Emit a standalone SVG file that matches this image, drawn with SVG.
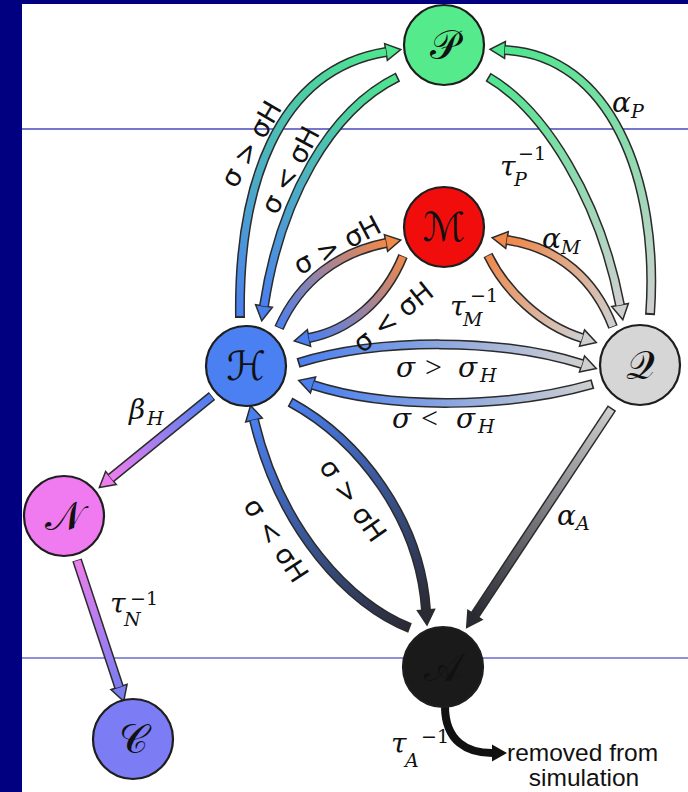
<svg xmlns="http://www.w3.org/2000/svg" width="688" height="792" viewBox="0 0 688 792">
<defs>
<style>
.ol{fill:none;stroke:#2b2b2b;stroke-width:10}
.in{fill:none;stroke-width:7;stroke-dasharray:0 6 1000}
.nd{stroke:#1e1e1e;stroke-width:2.2}
.nl{font-family:"DejaVu Serif","DejaVu Sans",serif;font-size:40px;text-anchor:middle;fill:#111}
.m{font-family:"DejaVu Serif",serif;font-style:italic;font-size:28px;fill:#111}
.s{font-size:19px}
.u{font-style:normal}
.g{font-family:"Liberation Serif",serif;font-style:normal;font-size:30px}
.r{font-family:"DejaVu Sans",sans-serif;font-size:27px;fill:#111;text-anchor:middle}
.t{font-family:"Liberation Sans",Arial,sans-serif;font-size:24.5px;fill:#111}
.hd{stroke:#2b2b2b;stroke-width:1.5}
</style>
<marker id="hG" viewBox="0 -10 17 20" refX="0" refY="0" markerWidth="17" markerHeight="20" markerUnits="userSpaceOnUse" orient="auto" overflow="visible"><path class="hd" d="M0,-8.5 L15,0 L0,8.5 Z" fill="#4ee68e"/></marker>
<marker id="hB" viewBox="0 -10 17 20" refX="0" refY="0" markerWidth="17" markerHeight="20" markerUnits="userSpaceOnUse" orient="auto" overflow="visible"><path class="hd" d="M0,-8.5 L15,0 L0,8.5 Z" fill="#4a7ff0"/></marker>
<marker id="hO" viewBox="0 -10 17 20" refX="0" refY="0" markerWidth="17" markerHeight="20" markerUnits="userSpaceOnUse" orient="auto" overflow="visible"><path class="hd" d="M0,-8.5 L15,0 L0,8.5 Z" fill="#f0884a"/></marker>
<marker id="hY" viewBox="0 -10 17 20" refX="0" refY="0" markerWidth="17" markerHeight="20" markerUnits="userSpaceOnUse" orient="auto" overflow="visible"><path class="hd" d="M0,-8.5 L15,0 L0,8.5 Z" fill="#cfcfcf"/></marker>
<marker id="hD" viewBox="0 -10 17 20" refX="0" refY="0" markerWidth="17" markerHeight="20" markerUnits="userSpaceOnUse" orient="auto" overflow="visible"><path class="hd" d="M0,-8.5 L15,0 L0,8.5 Z" fill="#2a2a34"/></marker>
<marker id="hK" viewBox="0 -10 17 20" refX="0" refY="0" markerWidth="17" markerHeight="20" markerUnits="userSpaceOnUse" orient="auto" overflow="visible"><path class="hd" d="M0,-8.5 L15,0 L0,8.5 Z" fill="#ee7eee"/></marker>
<marker id="hV" viewBox="0 -10 17 20" refX="0" refY="0" markerWidth="17" markerHeight="20" markerUnits="userSpaceOnUse" orient="auto" overflow="visible"><path class="hd" d="M0,-8.5 L15,0 L0,8.5 Z" fill="#7c7cf2"/></marker>
<marker id="hX" viewBox="0 -10 17 20" refX="0" refY="0" markerWidth="17" markerHeight="20" markerUnits="userSpaceOnUse" orient="auto" overflow="visible"><path d="M0,-8.5 L15,0 L0,8.5 Z" fill="#111"/></marker>
<linearGradient id="gHP" gradientUnits="userSpaceOnUse" x1="240" y1="318" x2="386" y2="52"><stop offset="0" stop-color="#4a7ff0"/><stop offset="1" stop-color="#4ee68e"/></linearGradient>
<linearGradient id="gPH" gradientUnits="userSpaceOnUse" x1="398" y1="77" x2="264" y2="306"><stop offset="0" stop-color="#4ee68e"/><stop offset="1" stop-color="#4a7ff0"/></linearGradient>
<linearGradient id="gHM" gradientUnits="userSpaceOnUse" x1="279" y1="328" x2="386" y2="243"><stop offset="0" stop-color="#4a7ff0"/><stop offset="1" stop-color="#f0884a"/></linearGradient>
<linearGradient id="gMH" gradientUnits="userSpaceOnUse" x1="403" y1="256" x2="309" y2="338"><stop offset="0" stop-color="#f0884a"/><stop offset="1" stop-color="#4a7ff0"/></linearGradient>
<linearGradient id="gMQ" gradientUnits="userSpaceOnUse" x1="488" y1="255" x2="582" y2="338"><stop offset="0" stop-color="#f0884a"/><stop offset="1" stop-color="#cfcfcf"/></linearGradient>
<linearGradient id="gQM" gradientUnits="userSpaceOnUse" x1="613" y1="327" x2="507" y2="240"><stop offset="0" stop-color="#cfcfcf"/><stop offset="1" stop-color="#f0884a"/></linearGradient>
<linearGradient id="gPQ" gradientUnits="userSpaceOnUse" x1="488" y1="77" x2="620" y2="305"><stop offset="0" stop-color="#4ee68e"/><stop offset="1" stop-color="#cfcfcf"/></linearGradient>
<linearGradient id="gQP" gradientUnits="userSpaceOnUse" x1="650" y1="315" x2="505" y2="50"><stop offset="0" stop-color="#cfcfcf"/><stop offset="1" stop-color="#4ee68e"/></linearGradient>
<linearGradient id="gHQ" gradientUnits="userSpaceOnUse" x1="298" y1="363" x2="582" y2="364"><stop offset="0" stop-color="#4a7ff0"/><stop offset="1" stop-color="#cfcfcf"/></linearGradient>
<linearGradient id="gQH" gradientUnits="userSpaceOnUse" x1="593" y1="384" x2="313" y2="385"><stop offset="0" stop-color="#cfcfcf"/><stop offset="1" stop-color="#4a7ff0"/></linearGradient>
<linearGradient id="gHA" gradientUnits="userSpaceOnUse" x1="290" y1="402" x2="426" y2="610"><stop offset="0" stop-color="#4a7ff0"/><stop offset="1" stop-color="#2a2a34"/></linearGradient>
<linearGradient id="gAH" gradientUnits="userSpaceOnUse" x1="410" y1="628" x2="254" y2="420"><stop offset="0" stop-color="#2a2a34"/><stop offset="1" stop-color="#4a7ff0"/></linearGradient>
<linearGradient id="gQA" gradientUnits="userSpaceOnUse" x1="612" y1="408" x2="475" y2="615"><stop offset="0" stop-color="#cfcfcf"/><stop offset="1" stop-color="#2a2a34"/></linearGradient>
<linearGradient id="gHN" gradientUnits="userSpaceOnUse" x1="212" y1="396" x2="111" y2="478"><stop offset="0" stop-color="#4a7ff0"/><stop offset="1" stop-color="#ee7eee"/></linearGradient>
<linearGradient id="gNC" gradientUnits="userSpaceOnUse" x1="77" y1="560" x2="119" y2="687"><stop offset="0" stop-color="#ee7eee"/><stop offset="1" stop-color="#7c7cf2"/></linearGradient>
</defs>
<rect width="688" height="792" fill="#000080"/>
<rect x="22" y="4" width="666" height="788" fill="#ffffff"/>
<line x1="22" y1="129" x2="688" y2="129" stroke="#4848b8" stroke-width="1.3"/>
<line x1="22" y1="658" x2="688" y2="658" stroke="#6a6ad0" stroke-width="1.3"/>

<g id="connectors">
<g id="e-HP"><path class="ol" d="M240,318 C238,190 275,70 386,52" marker-end="url(#hG)"/><path class="in" pathLength="1000" stroke="url(#gHP)" d="M240,318 C238,190 275,70 386,52"/></g>
<g id="e-PH"><path class="ol" d="M398,77 C330,110 280,200 264,306" marker-end="url(#hB)"/><path class="in" pathLength="1000" stroke="url(#gPH)" d="M398,77 C330,110 280,200 264,306"/></g>
<g id="e-HM"><path class="ol" d="M279,328 C300,280 340,252 386,243" marker-end="url(#hO)"/><path class="in" pathLength="1000" stroke="url(#gHM)" d="M279,328 C300,280 340,252 386,243"/></g>
<g id="e-MH"><path class="ol" d="M403,256 C385,300 350,330 309,338" marker-end="url(#hB)"/><path class="in" pathLength="1000" stroke="url(#gMH)" d="M403,256 C385,300 350,330 309,338"/></g>
<g id="e-MQ"><path class="ol" d="M488,255 C505,290 540,325 582,338" marker-end="url(#hY)"/><path class="in" pathLength="1000" stroke="url(#gMQ)" d="M488,255 C505,290 540,325 582,338"/></g>
<g id="e-QM"><path class="ol" d="M613,327 C595,280 560,248 507,240" marker-end="url(#hO)"/><path class="in" pathLength="1000" stroke="url(#gQM)" d="M613,327 C595,280 560,248 507,240"/></g>
<g id="e-PQ"><path class="ol" d="M488,77 C545,110 600,200 620,305" marker-end="url(#hY)"/><path class="in" pathLength="1000" stroke="url(#gPQ)" d="M488,77 C545,110 600,200 620,305"/></g>
<g id="e-QP"><path class="ol" d="M650,315 C660,180 610,55 505,50" marker-end="url(#hG)"/><path class="in" pathLength="1000" stroke="url(#gQP)" d="M650,315 C660,180 610,55 505,50"/></g>
<g id="e-HQ"><path class="ol" d="M298,363 C380,338 500,338 582,364" marker-end="url(#hY)"/><path class="in" pathLength="1000" stroke="url(#gHQ)" d="M298,363 C380,338 500,338 582,364"/></g>
<g id="e-QH"><path class="ol" d="M593,384 C510,408 390,410 313,385" marker-end="url(#hB)"/><path class="in" pathLength="1000" stroke="url(#gQH)" d="M593,384 C510,408 390,410 313,385"/></g>
<g id="e-HA"><path class="ol" d="M290,402 C360,440 420,520 426,610" marker-end="url(#hD)"/><path class="in" pathLength="1000" stroke="url(#gHA)" d="M290,402 C360,440 420,520 426,610"/></g>
<g id="e-AH"><path class="ol" d="M410,628 C350,605 280,530 254,420" marker-end="url(#hB)"/><path class="in" pathLength="1000" stroke="url(#gAH)" d="M410,628 C350,605 280,530 254,420"/></g>
<g id="e-QA"><path class="ol" d="M612,408 L475,615" marker-end="url(#hD)"/><path class="in" pathLength="1000" stroke="url(#gQA)" d="M612,408 L475,615"/></g>
<g id="e-HN"><path class="ol" d="M212,396 L111,478" marker-end="url(#hK)"/><path class="in" pathLength="1000" stroke="url(#gHN)" d="M212,396 L111,478"/></g>
<g id="e-NC"><path class="ol" d="M77,560 L119,687" marker-end="url(#hV)"/><path class="in" pathLength="1000" stroke="url(#gNC)" d="M77,560 L119,687"/></g>
<g id="e-Aout"><path d="M445,706 C445,742 468,753 492,753" fill="none" stroke="#111" stroke-width="8" marker-end="url(#hX)"/></g>
</g>

<g id="labels">
<text class="r" transform="translate(251,144) rotate(-60)" dy="0.35em">σ &gt; σH</text>
<text class="r" transform="translate(290,170) rotate(-62)" dy="0.35em">σ &lt; σH</text>
<text class="r" transform="translate(337,245) rotate(-28)" dy="0.35em">σ &gt; σH</text>
<text class="r" transform="translate(393,317) rotate(-39)" dy="0.35em">σ &lt; σH</text>
<text class="r" transform="translate(353,500) rotate(55)" dy="0.35em">σ &gt; σH</text>
<text class="r" transform="translate(276,540) rotate(57)" dy="0.35em">σ &lt; σH</text>
<text class="m"><tspan x="396" y="377">σ</tspan><tspan class="g" x="425" y="377">&gt;</tspan><tspan x="458" y="377">σ</tspan><tspan class="s" x="480" y="382">H</tspan></text>
<text class="m"><tspan x="392" y="428">σ</tspan><tspan class="g" x="421" y="428">&lt;</tspan><tspan x="456" y="428">σ</tspan><tspan class="s" x="478" y="433">H</tspan></text>
<text class="m"><tspan x="612" y="112">α</tspan><tspan class="s" x="631" y="118">P</tspan></text>
<text class="m"><tspan x="500" y="176">τ</tspan><tspan class="s" x="514" y="186">P</tspan><tspan class="s u" x="518" y="160">−1</tspan></text>
<text class="m"><tspan x="542" y="248">α</tspan><tspan class="s" x="561" y="254">M</tspan></text>
<text class="m"><tspan x="450" y="316">τ</tspan><tspan class="s" x="463" y="326">M</tspan><tspan class="s u" x="470" y="302">−1</tspan></text>
<text class="m"><tspan x="129" y="419">β</tspan><tspan class="s" x="147" y="425">H</tspan></text>
<text class="m"><tspan x="110" y="613">τ</tspan><tspan class="s" x="124" y="626">N</tspan><tspan class="s u" x="130" y="605">−1</tspan></text>
<text class="m"><tspan x="557" y="525">α</tspan><tspan class="s" x="576" y="530">A</tspan></text>
<text class="m"><tspan x="391" y="753">τ</tspan><tspan class="s" x="405" y="767">A</tspan><tspan class="s u" x="421" y="743">−1</tspan></text>
<text class="t" x="507" y="761">removed from</text>
<text class="t" x="584" y="786" text-anchor="middle">simulation</text>
</g>

<g id="node-P"><circle class="nd" cx="444" cy="45" r="40" fill="#55eb8c"/><text class="nl" x="444" y="59">𝒫</text></g>
<g id="node-M"><circle class="nd" cx="444" cy="227" r="40" fill="#f20d0d"/><text class="nl" x="444" y="241">ℳ</text></g>
<g id="node-H"><circle class="nd" cx="246" cy="366" r="40" fill="#4a80f2"/><text class="nl" x="246" y="380">ℋ</text></g>
<g id="node-Q"><circle class="nd" cx="640" cy="365" r="40" fill="#d6d6d6"/><text class="nl" x="640" y="379">𝒬</text></g>
<g id="node-N"><circle class="nd" cx="64" cy="516" r="40" fill="#f07af0"/><text class="nl" x="64" y="530">𝒩</text></g>
<g id="node-C"><circle class="nd" cx="133" cy="739" r="40" fill="#7c7cf4"/><text class="nl" x="133" y="753">𝒞</text></g>
<g id="node-A"><circle class="nd" cx="443" cy="667" r="40" fill="#1a1a1a"/><text class="nl" x="443" y="681" fill="#ffffff">𝒜</text></g>
</svg>
